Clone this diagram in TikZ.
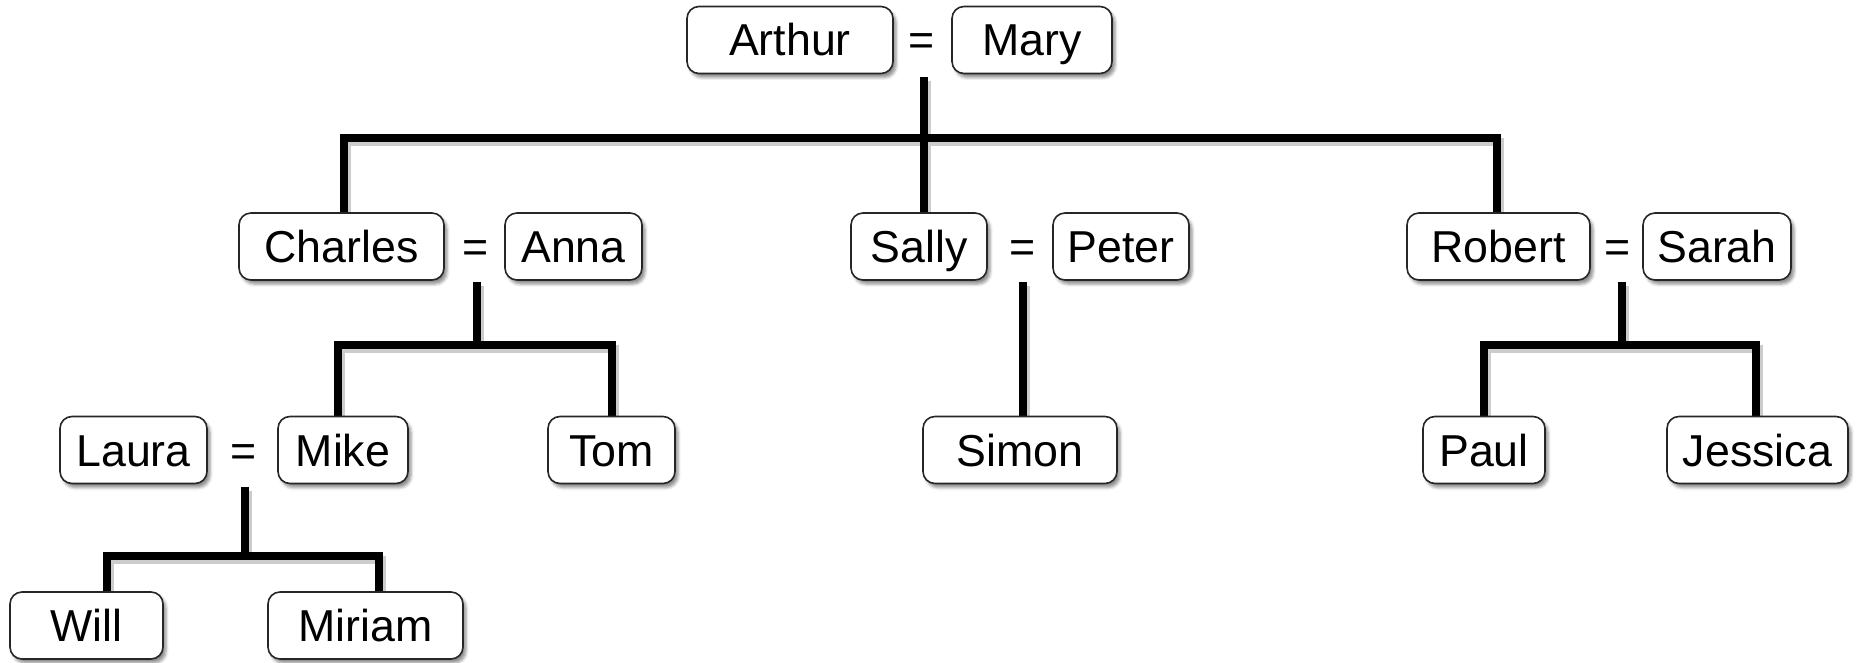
\documentclass[tikz,border=0pt]{standalone}
\usepackage{fontspec}
\setmainfont{Liberation Sans}
\usetikzlibrary{shadows.blur,backgrounds}
\begin{document}
\begin{tikzpicture}[x=1pt,y=-1pt,
  person/.style={draw=black!85, line width=1.6pt, rounded corners=12pt, fill=white,
    minimum height=67pt, inner sep=0pt, text height=32pt, text depth=0pt,
    font=\fontsize{44.7}{50}\selectfont,
    blur shadow={shadow xshift=3pt, shadow yshift=-4pt, shadow blur radius=3pt, shadow opacity=45}},
  eqsign/.style={minimum height=67pt, inner sep=0pt, text height=32pt, text depth=0pt,
    font=\fontsize{44.7}{50}\selectfont},
  conn/.style={line width=8pt, line join=miter, line cap=butt,
    preaction={draw=black!20, line width=8pt, transform canvas={shift={(3pt,-4pt)}}}}
]
\useasboundingbox (0,0) rectangle (1857,663);
% row 1
\node[person, minimum width=206pt] (arthur) at (790,40) {Arthur};
\node[eqsign] (eqAM) at (922,40) {=};
\node[person, minimum width=160pt] (mary) at (1032,40) {Mary};
% row 2
\node[person, minimum width=205pt] (charles) at (341.5,246.5) {Charles};
\node[eqsign] (eqCA) at (476,246.5) {=};
\node[person, minimum width=137pt] (anna) at (573.5,246.5) {Anna};
\node[person, minimum width=136pt] (sally) at (919,246.5) {Sally};
\node[eqsign] (eqSP) at (1023,246.5) {=};
\node[person, minimum width=136pt] (peter) at (1121,246.5) {Peter};
\node[person, minimum width=183pt] (robert) at (1498.5,246.5) {Robert};
\node[eqsign] (eqRS) at (1618,246.5) {=};
\node[person, minimum width=148pt] (sarah) at (1717,246.5) {Sarah};
% row 3
\node[person, minimum width=147pt] (laura) at (133.5,450) {Laura};
\node[eqsign] (eqLM) at (244,450) {=};
\node[person, minimum width=130pt] (mike) at (343,450) {Mike};
\node[person, minimum width=127pt] (tom) at (611.5,450) {Tom};
\node[person, minimum width=194pt] (simon) at (1020,450) {Simon};
\node[person, minimum width=122pt] (paul) at (1484,450) {Paul};
\node[person, minimum width=181pt] (jessica) at (1757.5,450) {Jessica};
% row 4
\node[person, minimum width=153pt] (will) at (86.5,625.5) {Will};
\node[person, minimum width=195pt] (miriam) at (365.5,625.5) {Miriam};
% junctions
\coordinate (jAM) at (924,138);
\coordinate (jCA) at (477,345);
\coordinate (jRS) at (1622,345);
\coordinate (jLM) at (245,556);
% connectors
\begin{scope}[on background layer]
\draw[conn] ([xshift=2pt,yshift=-3pt]eqAM.south) -- (jAM);
\draw[conn] ([xshift=2.5pt]charles.north) |- (jAM) -| ([xshift=-1.5pt]robert.north);
\draw[conn] (jAM) -- (jAM |- sally.north);
\draw[conn] ([xshift=1pt,yshift=-2pt]eqCA.south) -- (jCA);
\draw[conn] ([xshift=-5pt]mike.north) |- (jCA) -| (tom.north);
\draw[conn] ([yshift=-2pt]eqSP.south) -- (eqSP.south |- simon.north);
\draw[conn] ([xshift=4pt,yshift=-2pt]eqRS.south) -- (jRS);
\draw[conn] (paul.north) |- (jRS) -| ([xshift=-1.5pt]jessica.north);
\draw[conn] ([xshift=1pt,yshift=-3pt]eqLM.south) -- (jLM);
\draw[conn] ([xshift=20.5pt]will.north) |- (jLM) -| ([xshift=13.5pt]miriam.north);
\end{scope}
\end{tikzpicture}
\end{document}
